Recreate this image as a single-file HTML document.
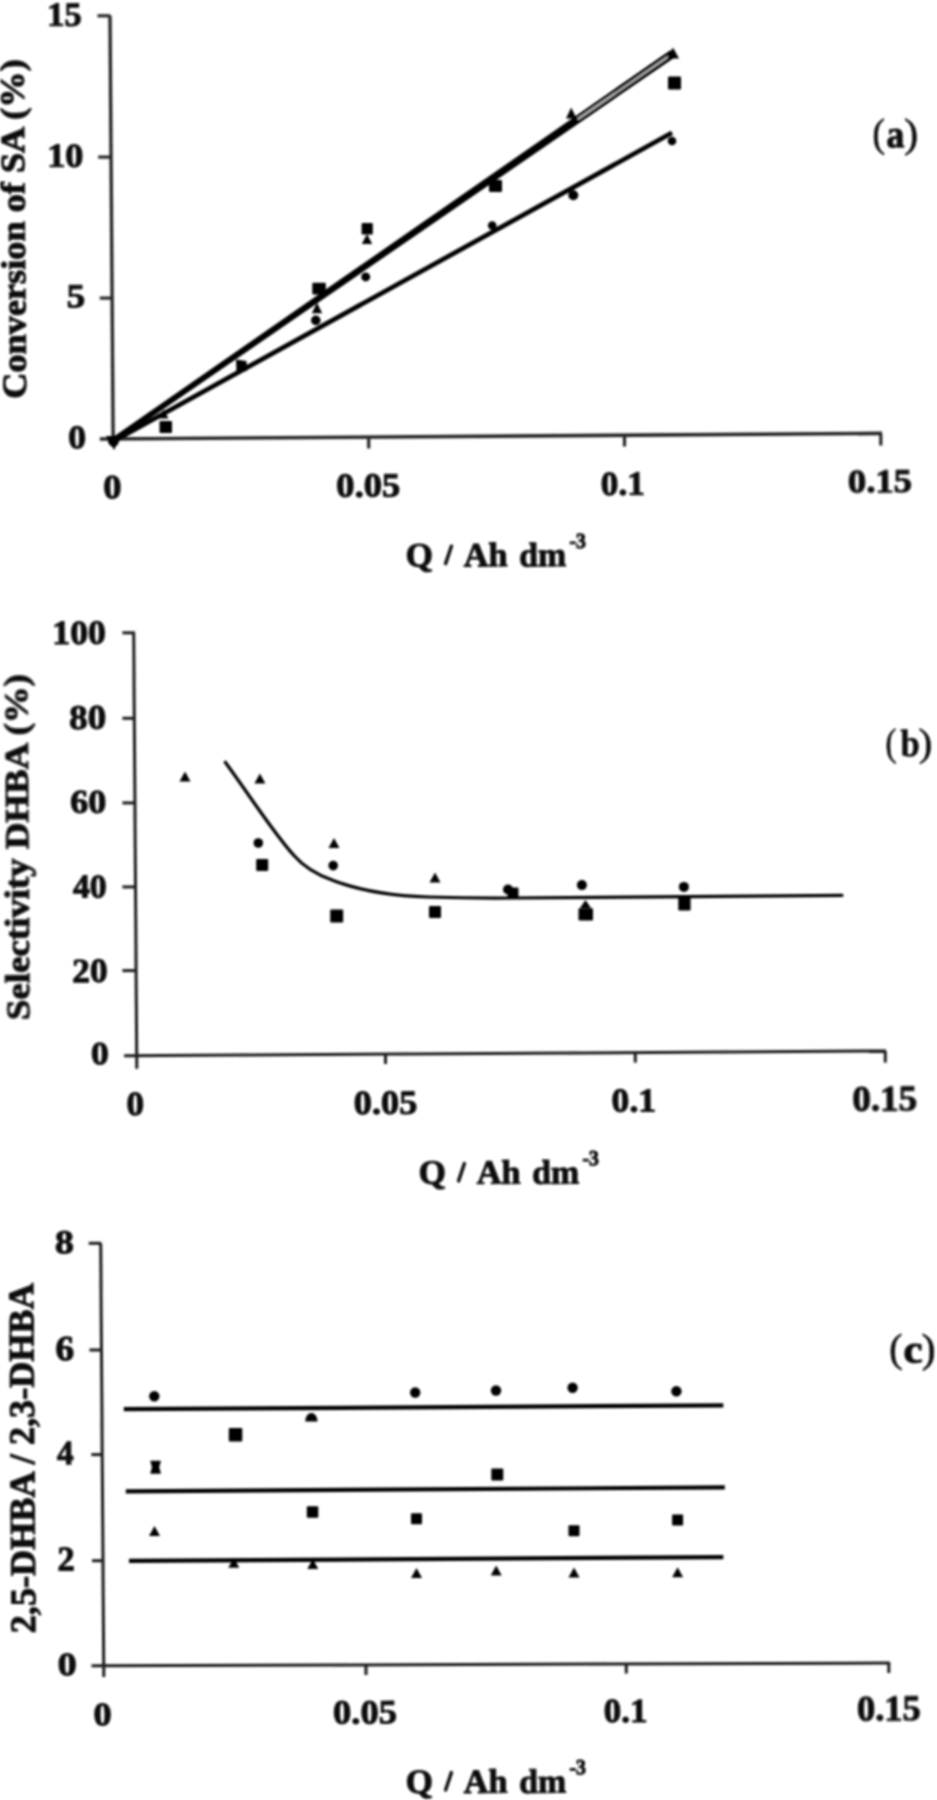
<!DOCTYPE html>
<html><head><meta charset="utf-8"><style>
html,body{margin:0;padding:0;background:#fff;}
svg{display:block;}
text{font-family:"Liberation Serif", serif;}
</style></head><body>
<svg width="937" height="1800" viewBox="0 0 937 1800">
<defs><filter id="bl" filterUnits="userSpaceOnUse" x="-10" y="-10" width="957" height="1820"><feGaussianBlur stdDeviation="1.0"/></filter></defs>
<rect width="937" height="1800" fill="#fff"/>
<g filter="url(#bl)">
<line x1="110" y1="15.8" x2="113.2" y2="446" stroke="#262626" stroke-width="3.4" stroke-linecap="butt"/>
<line x1="97.5" y1="15.8" x2="110.5" y2="15.8" stroke="#262626" stroke-width="3.2" stroke-linecap="butt"/>
<line x1="98.2" y1="157.1" x2="111" y2="157.1" stroke="#262626" stroke-width="3.2" stroke-linecap="butt"/>
<line x1="99.8" y1="298.1" x2="112" y2="298.1" stroke="#262626" stroke-width="3.2" stroke-linecap="butt"/>
<line x1="99.8" y1="439" x2="882" y2="433.4" stroke="#262626" stroke-width="3.6" stroke-linecap="butt"/>
<line x1="368.7" y1="437" x2="368.7" y2="448.5" stroke="#262626" stroke-width="3.2" stroke-linecap="butt"/>
<line x1="624.5" y1="435.5" x2="624.5" y2="446.5" stroke="#262626" stroke-width="3.2" stroke-linecap="butt"/>
<line x1="880.8" y1="433.4" x2="880.8" y2="445.5" stroke="#262626" stroke-width="3.2" stroke-linecap="butt"/>
<text transform="translate(47.24,25.76) rotate(-0.4) scale(1.0217,1)" font-size="33.73" font-weight="bold" fill="#0d0d0d" stroke="#0d0d0d" stroke-width="1.00">15</text>
<text transform="translate(47.19,166.77) rotate(-0.4) scale(1.0861,1)" font-size="33.48" font-weight="bold" fill="#0d0d0d" stroke="#0d0d0d" stroke-width="1.00">10</text>
<text transform="translate(66.82,307.16) rotate(-0.4) scale(1.1016,1)" font-size="33.53" font-weight="bold" fill="#0d0d0d" stroke="#0d0d0d" stroke-width="1.00">5</text>
<text transform="translate(68.17,448.17) rotate(-0.4) scale(1.0859,1)" font-size="32.89" font-weight="bold" fill="#0d0d0d" stroke="#0d0d0d" stroke-width="1.00">0</text>
<text transform="translate(103.23,498.36) rotate(-0.4) scale(1.0808,1)" font-size="33.93" font-weight="bold" fill="#0d0d0d" stroke="#0d0d0d" stroke-width="1.00">0</text>
<text transform="translate(336.34,496.79) rotate(-0.4) scale(1.0820,1)" font-size="33.82" font-weight="bold" fill="#0d0d0d" stroke="#0d0d0d" stroke-width="1.00">0.05</text>
<text transform="translate(600.79,494.99) rotate(-0.4) scale(1.0450,1)" font-size="33.82" font-weight="bold" fill="#0d0d0d" stroke="#0d0d0d" stroke-width="1.00">0.1</text>
<text transform="translate(848.04,492.60) rotate(-0.4) scale(1.1060,1)" font-size="33.09" font-weight="bold" fill="#0d0d0d" stroke="#0d0d0d" stroke-width="1.00">0.15</text>
<text transform="translate(405.85,566.50) rotate(-0.4) scale(1.0305,1)" font-size="34.00" font-weight="bold" fill="#0d0d0d" stroke="#0d0d0d" stroke-width="1.00">Q</text>
<line x1="451.4" y1="546.2" x2="445.6" y2="563.6" stroke="#0d0d0d" stroke-width="3.4" stroke-linecap="round"/>
<text transform="translate(463.76,566.50) rotate(-0.4) scale(1.0118,1)" font-size="34.00" font-weight="bold" fill="#0d0d0d" stroke="#0d0d0d" stroke-width="1.00">Ah</text>
<text transform="translate(519.24,566.50) rotate(-0.4) scale(0.9973,1)" font-size="34.00" font-weight="bold" fill="#0d0d0d" stroke="#0d0d0d" stroke-width="1.00">dm</text>
<text transform="translate(569.50,548.00) rotate(-0.4) scale(0.9242,1)" font-size="21.50" font-weight="bold" fill="#0d0d0d" stroke="#0d0d0d" stroke-width="1.00">-3</text>
<text transform="translate(26.00,398.71) rotate(-90.42) scale(1.0670,1)" font-size="34.00" font-weight="bold" fill="#0d0d0d" stroke="#0d0d0d" stroke-width="1.00">Conversion of SA (%)</text>
<text transform="translate(872.61,146.55) rotate(-0.4) scale(0.9360,1)" font-size="40.22" font-weight="normal" fill="#0d0d0d" stroke="#0d0d0d" stroke-width="0.60">(</text>
<text transform="translate(886.53,147.21) rotate(-0.4) scale(0.9295,1)" font-size="38.54" font-weight="bold" fill="#0d0d0d" stroke="#0d0d0d" stroke-width="1.00">a</text>
<text transform="translate(904.33,146.66) rotate(-0.4) scale(1.0404,1)" font-size="40.67" font-weight="normal" fill="#0d0d0d" stroke="#0d0d0d" stroke-width="0.60">)</text>
<line x1="113" y1="440" x2="672" y2="51.8" stroke="#050505" stroke-width="4.6" stroke-linecap="butt"/>
<line x1="113" y1="441" x2="674" y2="55" stroke="#050505" stroke-width="4.6" stroke-linecap="butt"/>
<line x1="113" y1="441.5" x2="672" y2="132.8" stroke="#050505" stroke-width="4.7" stroke-linecap="butt"/>
<line x1="578" y1="119.0" x2="668" y2="56.8" stroke="#fff" stroke-width="1.1" stroke-linecap="round"/>
<path d="M106,436 L121,436 L114,450Z" fill="#050505"/>
<circle cx="113.5" cy="441" r="5.5" fill="#050505"/>
<rect x="159.5" y="421" width="12.5" height="12.0" rx="1" fill="#050505"/>
<path d="M163.5,409.5 L168.5,418.5 L158.5,418.5Z" fill="#050505"/>
<path d="M236,359.5 L246.5,361 L247,371 L236.5,372Z" fill="#050505"/>
<rect x="312.3" y="282.8" width="13.5" height="11.7" rx="1" fill="#050505"/>
<path d="M317.0,302.8 L322.2,313.2 L311.8,313.2Z" fill="#050505"/>
<circle cx="315.8" cy="320.4" r="4.8" fill="#050505"/>
<rect x="361.6" y="223" width="11.2" height="11.5" rx="1" fill="#050505"/>
<path d="M367.0,234.0 L372.2,244.0 L361.8,244.0Z" fill="#050505"/>
<circle cx="365.7" cy="276.9" r="4.5" fill="#050505"/>
<rect x="489" y="180" width="13.0" height="12.0" rx="1" fill="#050505"/>
<circle cx="492.2" cy="225.5" r="4.3" fill="#050505"/>
<path d="M571.2,107.5 L576.5,118.5 L566.0,118.5Z" fill="#050505"/>
<circle cx="573.3" cy="195.3" r="5" fill="#050505"/>
<path d="M673.0,47.5 L679.0,58.5 L667.0,58.5Z" fill="#050505"/>
<rect x="668" y="76.5" width="13.0" height="13.0" rx="1" fill="#050505"/>
<circle cx="672" cy="141" r="4.3" fill="#050505"/>
<line x1="133.7" y1="632.8" x2="136.8" y2="1068.8" stroke="#1c1c1c" stroke-width="3.0" stroke-linecap="butt"/>
<line x1="122.4" y1="632.8" x2="135" y2="632.8" stroke="#1c1c1c" stroke-width="3.0" stroke-linecap="butt"/>
<line x1="122.4" y1="718.3" x2="135" y2="718.3" stroke="#1c1c1c" stroke-width="3.0" stroke-linecap="butt"/>
<line x1="122.4" y1="802.9" x2="135" y2="802.9" stroke="#1c1c1c" stroke-width="3.0" stroke-linecap="butt"/>
<line x1="122.4" y1="886.9" x2="135" y2="886.9" stroke="#1c1c1c" stroke-width="3.0" stroke-linecap="butt"/>
<line x1="122.4" y1="970.6" x2="135" y2="970.6" stroke="#1c1c1c" stroke-width="3.0" stroke-linecap="butt"/>
<line x1="124.1" y1="1055.8" x2="886" y2="1051" stroke="#1c1c1c" stroke-width="3.0" stroke-linecap="butt"/>
<line x1="385.5" y1="1054" x2="385.5" y2="1064" stroke="#1c1c1c" stroke-width="3.0" stroke-linecap="butt"/>
<line x1="635.3" y1="1052.5" x2="635.3" y2="1062.6" stroke="#1c1c1c" stroke-width="3.0" stroke-linecap="butt"/>
<line x1="885.3" y1="1051" x2="885.3" y2="1062.6" stroke="#1c1c1c" stroke-width="3.0" stroke-linecap="butt"/>
<text transform="translate(52.34,644.06) rotate(-0.4) scale(1.0552,1)" font-size="33.93" font-weight="bold" fill="#0d0d0d" stroke="#0d0d0d" stroke-width="1.00">100</text>
<text transform="translate(69.21,728.96) rotate(-0.4) scale(1.0757,1)" font-size="34.37" font-weight="bold" fill="#0d0d0d" stroke="#0d0d0d" stroke-width="1.00">80</text>
<text transform="translate(70.23,812.87) rotate(-0.4) scale(1.0913,1)" font-size="33.19" font-weight="bold" fill="#0d0d0d" stroke="#0d0d0d" stroke-width="1.00">60</text>
<text transform="translate(72.89,897.57) rotate(-0.4) scale(1.0236,1)" font-size="33.19" font-weight="bold" fill="#0d0d0d" stroke="#0d0d0d" stroke-width="1.00">40</text>
<text transform="translate(72.28,982.16) rotate(-0.4) scale(1.0399,1)" font-size="34.07" font-weight="bold" fill="#0d0d0d" stroke="#0d0d0d" stroke-width="1.00">20</text>
<text transform="translate(91.07,1064.28) rotate(-0.4) scale(1.1058,1)" font-size="32.30" font-weight="bold" fill="#0d0d0d" stroke="#0d0d0d" stroke-width="1.00">0</text>
<text transform="translate(126.59,1115.06) rotate(-0.4) scale(1.0478,1)" font-size="33.63" font-weight="bold" fill="#0d0d0d" stroke="#0d0d0d" stroke-width="1.00">0</text>
<text transform="translate(353.85,1113.99) rotate(-0.4) scale(1.0796,1)" font-size="33.68" font-weight="bold" fill="#0d0d0d" stroke="#0d0d0d" stroke-width="1.00">0.05</text>
<text transform="translate(611.58,1111.60) rotate(-0.4) scale(1.0713,1)" font-size="33.24" font-weight="bold" fill="#0d0d0d" stroke="#0d0d0d" stroke-width="1.00">0.1</text>
<text transform="translate(852.52,1110.98) rotate(-0.4) scale(1.0586,1)" font-size="34.85" font-weight="bold" fill="#0d0d0d" stroke="#0d0d0d" stroke-width="1.00">0.15</text>
<text transform="translate(418.85,1183.80) rotate(-0.4) scale(1.0305,1)" font-size="34.00" font-weight="bold" fill="#0d0d0d" stroke="#0d0d0d" stroke-width="1.00">Q</text>
<line x1="464.4" y1="1163.5" x2="458.6" y2="1180.9" stroke="#0d0d0d" stroke-width="3.4" stroke-linecap="round"/>
<text transform="translate(476.76,1183.80) rotate(-0.4) scale(1.0118,1)" font-size="34.00" font-weight="bold" fill="#0d0d0d" stroke="#0d0d0d" stroke-width="1.00">Ah</text>
<text transform="translate(532.24,1183.80) rotate(-0.4) scale(0.9973,1)" font-size="34.00" font-weight="bold" fill="#0d0d0d" stroke="#0d0d0d" stroke-width="1.00">dm</text>
<text transform="translate(582.50,1165.30) rotate(-0.4) scale(0.9242,1)" font-size="21.50" font-weight="bold" fill="#0d0d0d" stroke="#0d0d0d" stroke-width="1.00">-3</text>
<text transform="translate(29.50,1020.03) rotate(-90.37) scale(1.0689,1)" font-size="34.50" font-weight="bold" fill="#0d0d0d" stroke="#0d0d0d" stroke-width="1.00">Selectivity DHBA (%)</text>
<text transform="translate(885.42,755.56) rotate(-0.4) scale(0.8492,1)" font-size="38.79" font-weight="normal" fill="#0d0d0d" stroke="#0d0d0d" stroke-width="0.60">(</text>
<text transform="translate(900.43,756.17) rotate(-0.4) scale(0.9087,1)" font-size="38.30" font-weight="bold" fill="#0d0d0d" stroke="#0d0d0d" stroke-width="0.50">b</text>
<text transform="translate(918.68,755.66) rotate(-0.4) scale(1.0394,1)" font-size="39.22" font-weight="normal" fill="#0d0d0d" stroke="#0d0d0d" stroke-width="0.60">)</text>
<path d="M225.3,762.3 C250,796 275,835 293.7,855.2 C305,868 318,875 332,880 C360,891 395,896 428,897 C460,898 490,898.2 512,898 L842,895.3" fill="none" stroke="#050505" stroke-width="3.2" stroke-linejoin="round" stroke-linecap="round"/>
<path d="M185.0,771.5 L190.5,781.5 L179.5,781.5Z" fill="#050505"/>
<path d="M259.9,773.4 L265.4,783.4 L254.4,783.4Z" fill="#050505"/>
<circle cx="258.3" cy="843" r="4.8" fill="#050505"/>
<rect x="256.2" y="858.9" width="12" height="12" rx="1" fill="#050505"/>
<path d="M334.0,838.0 L339.5,848.0 L328.5,848.0Z" fill="#050505"/>
<circle cx="333.2" cy="865.6" r="4.8" fill="#050505"/>
<rect x="330.2" y="909.5" width="13" height="13" rx="1" fill="#050505"/>
<path d="M435.0,872.5 L440.5,882.5 L429.5,882.5Z" fill="#050505"/>
<rect x="429.0" y="906.0" width="12" height="12" rx="1" fill="#050505"/>
<circle cx="508" cy="889.5" r="5" fill="#050505"/>
<rect x="507.5" y="887.5" width="11" height="11" rx="1" fill="#050505"/>
<circle cx="581.9" cy="885.1" r="5" fill="#050505"/>
<path d="M585.5,900.0 L591.0,908.0 L580.0,908.0Z" fill="#050505"/>
<rect x="578.5" y="908.2" width="14.5" height="12.3" rx="1" fill="#050505"/>
<circle cx="683.9" cy="886.9" r="5" fill="#050505"/>
<rect x="678.3" y="897" width="12.3" height="13.4" rx="1" fill="#050505"/>
<line x1="100.7" y1="1243.3" x2="103.8" y2="1677" stroke="#1c1c1c" stroke-width="3.0" stroke-linecap="butt"/>
<line x1="88.7" y1="1243.3" x2="101.20213" y2="1243.3" stroke="#1c1c1c" stroke-width="3.0" stroke-linecap="butt"/>
<line x1="89.5" y1="1350" x2="101.9597" y2="1350" stroke="#1c1c1c" stroke-width="3.0" stroke-linecap="butt"/>
<line x1="91.3" y1="1454.6" x2="102.70236" y2="1454.6" stroke="#1c1c1c" stroke-width="3.0" stroke-linecap="butt"/>
<line x1="92" y1="1560.7" x2="103.45567" y2="1560.7" stroke="#1c1c1c" stroke-width="3.0" stroke-linecap="butt"/>
<line x1="91.5" y1="1665.8" x2="889.5" y2="1663" stroke="#1c1c1c" stroke-width="3.0" stroke-linecap="butt"/>
<line x1="366" y1="1664.7" x2="366" y2="1675" stroke="#1c1c1c" stroke-width="3.0" stroke-linecap="butt"/>
<line x1="626.3" y1="1663.5" x2="626.3" y2="1673.5" stroke="#1c1c1c" stroke-width="3.0" stroke-linecap="butt"/>
<line x1="888.8" y1="1662" x2="888.8" y2="1673" stroke="#1c1c1c" stroke-width="3.0" stroke-linecap="butt"/>
<text transform="translate(55.07,1253.17) rotate(-0.4) scale(1.1423,1)" font-size="33.19" font-weight="bold" fill="#0d0d0d" stroke="#0d0d0d" stroke-width="1.00">8</text>
<text transform="translate(55.49,1360.25) rotate(-0.4) scale(1.0638,1)" font-size="35.22" font-weight="bold" fill="#0d0d0d" stroke="#0d0d0d" stroke-width="1.00">6</text>
<text transform="translate(57.10,1464.30) rotate(-0.4) scale(0.9821,1)" font-size="33.94" font-weight="bold" fill="#0d0d0d" stroke="#0d0d0d" stroke-width="1.00">4</text>
<text transform="translate(57.42,1570.60) rotate(-0.4) scale(0.9975,1)" font-size="34.55" font-weight="bold" fill="#0d0d0d" stroke="#0d0d0d" stroke-width="1.00">2</text>
<text transform="translate(57.68,1675.37) rotate(-0.4) scale(1.1635,1)" font-size="32.74" font-weight="bold" fill="#0d0d0d" stroke="#0d0d0d" stroke-width="1.00">0</text>
<text transform="translate(93.54,1725.27) rotate(-0.4) scale(1.1177,1)" font-size="32.59" font-weight="bold" fill="#0d0d0d" stroke="#0d0d0d" stroke-width="1.00">0</text>
<text transform="translate(333.04,1723.59) rotate(-0.4) scale(1.0867,1)" font-size="33.68" font-weight="bold" fill="#0d0d0d" stroke="#0d0d0d" stroke-width="1.00">0.05</text>
<text transform="translate(603.80,1722.09) rotate(-0.4) scale(1.0393,1)" font-size="33.68" font-weight="bold" fill="#0d0d0d" stroke="#0d0d0d" stroke-width="1.00">0.1</text>
<text transform="translate(857.15,1720.78) rotate(-0.4) scale(1.0432,1)" font-size="34.85" font-weight="bold" fill="#0d0d0d" stroke="#0d0d0d" stroke-width="1.00">0.15</text>
<text transform="translate(405.85,1792.90) rotate(-0.4) scale(1.0305,1)" font-size="34.00" font-weight="bold" fill="#0d0d0d" stroke="#0d0d0d" stroke-width="1.00">Q</text>
<line x1="451.4" y1="1772.6" x2="445.6" y2="1790.0" stroke="#0d0d0d" stroke-width="3.4" stroke-linecap="round"/>
<text transform="translate(463.76,1792.90) rotate(-0.4) scale(1.0118,1)" font-size="34.00" font-weight="bold" fill="#0d0d0d" stroke="#0d0d0d" stroke-width="1.00">Ah</text>
<text transform="translate(519.24,1792.90) rotate(-0.4) scale(0.9973,1)" font-size="34.00" font-weight="bold" fill="#0d0d0d" stroke="#0d0d0d" stroke-width="1.00">dm</text>
<text transform="translate(569.50,1774.40) rotate(-0.4) scale(0.9242,1)" font-size="21.50" font-weight="bold" fill="#0d0d0d" stroke="#0d0d0d" stroke-width="1.00">-3</text>
<text transform="translate(35.30,1633.25) rotate(-90.36) scale(1.0063,1)" font-size="36.00" font-weight="bold" fill="#0d0d0d" stroke="#0d0d0d" stroke-width="1.00">2,5-DHBA / 2,3-DHBA</text>
<text transform="translate(889.30,1361.85) rotate(-0.4) scale(0.9945,1)" font-size="40.22" font-weight="normal" fill="#0d0d0d" stroke="#0d0d0d" stroke-width="0.60">(</text>
<text transform="translate(903.49,1362.51) rotate(-0.4) scale(1.1009,1)" font-size="39.17" font-weight="bold" fill="#0d0d0d" stroke="#0d0d0d" stroke-width="1.00">c</text>
<text transform="translate(921.84,1361.96) rotate(-0.4) scale(1.0309,1)" font-size="40.67" font-weight="normal" fill="#0d0d0d" stroke="#0d0d0d" stroke-width="0.60">)</text>
<line x1="123.8" y1="1409.2" x2="723.3" y2="1405.4" stroke="#050505" stroke-width="4.2" stroke-linecap="butt"/>
<line x1="125.8" y1="1491.3" x2="724.8" y2="1487.4" stroke="#050505" stroke-width="4.2" stroke-linecap="butt"/>
<line x1="129" y1="1560.9" x2="723.3" y2="1557.1" stroke="#050505" stroke-width="4.2" stroke-linecap="butt"/>
<circle cx="154.3" cy="1396.3" r="5.2" fill="#050505"/>
<circle cx="415.2" cy="1392.5" r="5.2" fill="#050505"/>
<circle cx="496" cy="1390.5" r="5.2" fill="#050505"/>
<circle cx="572.6" cy="1387.7" r="5.2" fill="#050505"/>
<circle cx="676.4" cy="1391.2" r="5.2" fill="#050505"/>
<path d="M305.2,1421.4 A6.1,8.3 0 0 1 317.6,1421.4 Z" fill="#050505"/>
<path d="M150.2,1460.8 L161,1460.8 L159.2,1467.2 L161,1473.8 L150.2,1473.8 L152,1467.2Z" fill="#050505"/>
<rect x="228.8" y="1428.0" width="13.5" height="13.5" rx="1" fill="#050505"/>
<rect x="306.8" y="1506.2" width="11.5" height="11.5" rx="1" fill="#050505"/>
<rect x="411.0" y="1513.3" width="11" height="11" rx="1" fill="#050505"/>
<rect x="491.3" y="1468.4" width="12" height="12" rx="1" fill="#050505"/>
<rect x="568.5" y="1525.3" width="11" height="11" rx="1" fill="#050505"/>
<rect x="672.1" y="1514.5" width="11" height="11" rx="1" fill="#050505"/>
<path d="M154.5,1526.0 L160.0,1536.0 L149.0,1536.0Z" fill="#050505"/>
<path d="M233.8,1557.8 L239.3,1567.8 L228.3,1567.8Z" fill="#050505"/>
<path d="M312.8,1559.0 L318.3,1569.0 L307.3,1569.0Z" fill="#050505"/>
<path d="M416.5,1568.0 L422.0,1578.0 L411.0,1578.0Z" fill="#050505"/>
<path d="M496.2,1565.5 L501.7,1575.5 L490.7,1575.5Z" fill="#050505"/>
<path d="M574.0,1567.6 L579.5,1577.6 L568.5,1577.6Z" fill="#050505"/>
<path d="M677.6,1567.2 L683.1,1577.2 L672.1,1577.2Z" fill="#050505"/>
</g>
</svg>
</body></html>
